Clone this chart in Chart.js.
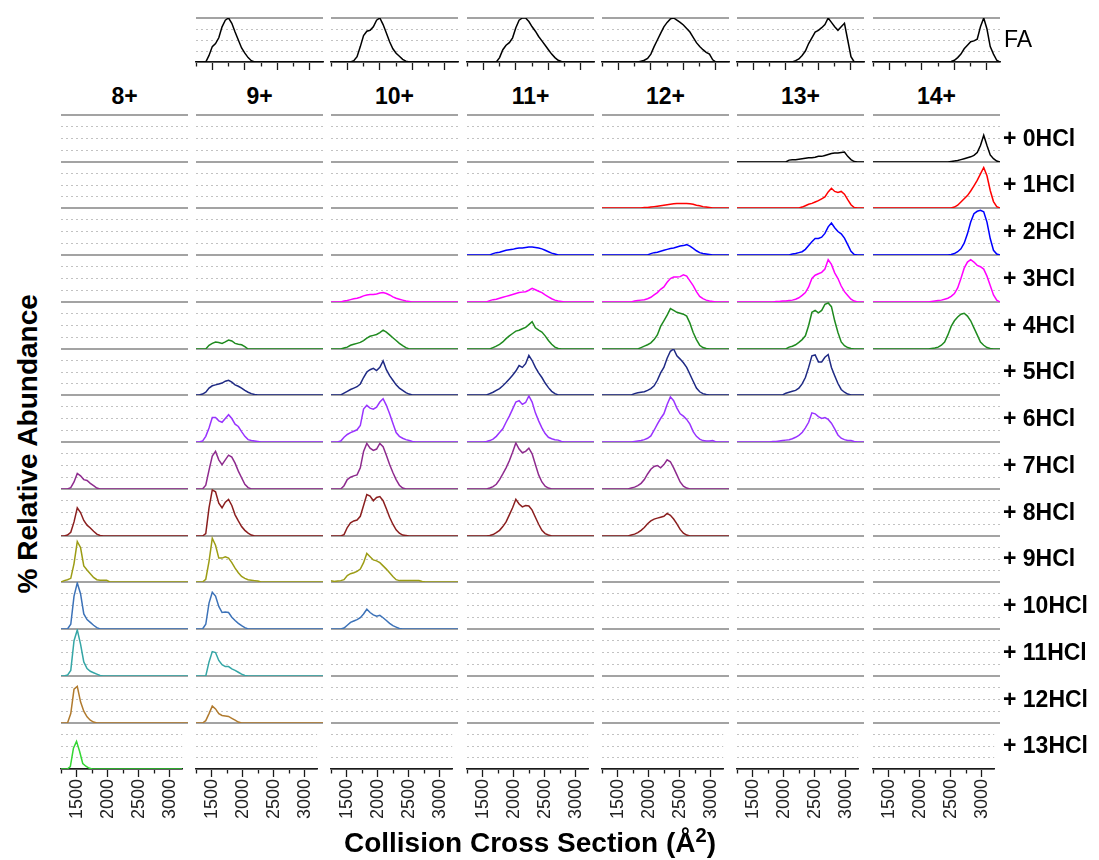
<!DOCTYPE html>
<html>
<head>
<meta charset="utf-8">
<script src="https://cdn.jsdelivr.net/npm/chart.js@4.4.1/dist/chart.umd.min.js"></script>
<style>
  body { margin: 0; background: #fff; }
  #wrap { position: relative; width: 1099px; height: 860px; overflow: hidden; font-family: "Liberation Sans", Arial, sans-serif; }
  #wrap canvas { position: absolute; }
  .lbl { position: absolute; white-space: nowrap; color: #000; }
  .sup { font-size: 0.72em; position: relative; top: -0.5em; }
</style>
</head>
<body>
<div id="wrap"></div>
<script>
// collision cross section grid (A^2), one value every 50
const ccs = [1250, 1300, 1350, 1400, 1450, 1500, 1550, 1600, 1650, 1700,
             1750, 1800, 1850, 1900, 1950, 2000, 2050, 2100, 2150, 2200,
             2250, 2300, 2350, 2400, 2450, 2500, 2550, 2600, 2650, 2700,
             2750, 2800, 2850, 2900, 2950, 3000, 3050, 3100, 3150, 3200];
const xTickValues = [1250, 1500, 1750, 2000, 2250, 2500, 2750, 3000];
const xTickLabels = [1500, 2000, 2500, 3000];
const charges = ['8+', '9+', '10+', '11+', '12+', '13+', '14+'];
const adducts = ['+ 0HCl', '+ 1HCl', '+ 2HCl', '+ 3HCl', '+ 4HCl', '+ 5HCl', '+ 6HCl',
                 '+ 7HCl', '+ 8HCl', '+ 9HCl', '+ 10HCl', '+ 11HCl', '+ 12HCl', '+ 13HCl'];

// relative abundance, 0..1, read along ccs (missing tail = 0)
// FA row
const fa9  = [0,0,0,0,.15,.35,.42,.55,.8,.95,1,.88,.68,.5,.32,.2,.1,.03];
const fa10 = [0,0,0,0,0,0,0,.03,.12,.35,.6,.7,.72,.8,.95,1,.85,.66,.46,.3,.2,.13,.06,.02];
const fa11 = [0,0,0,0,0,0,0,0,0,0,.1,.28,.38,.44,.55,.78,.95,1,1,.92,.8,.7,.58,.48,.38,.28,.18,.1,.04,.01];
const fa12 = [0,0,0,0,0,0,0,0,0,0,0,0,.02,.04,.08,.18,.35,.5,.65,.8,.9,.98,1,.95,.9,.84,.76,.68,.56,.44,.35,.28,.22,.18,.05];
const fa13 = [0,0,0,0,0,0,0,0,0,0,0,0,0,0,0,0,0,0,.03,.07,.15,.25,.42,.55,.68,.72,.78,.85,1,.9,.8,.72,.8,.88,.5,.12];
const fa14 = [0,0,0,0,0,0,0,0,0,0,0,0,0,0,0,0,0,0,0,0,0,0,0,0,.01,.04,.1,.18,.3,.38,.46,.48,.52,.8,1,.75,.35,.18,.04];

// +nHCl rows, named h<n>_<charge>
const h0_13 = [0,0,0,0,0,0,0,0,0,0,0,0,0,0,0,0,.04,.05,.05,.06,.07,.08,.09,.09,.1,.12,.12,.14,.16,.18,.19,.19,.2,.21,.12,.05,.01];
const h0_14 = [0,0,0,0,0,0,0,0,0,0,0,0,0,0,0,0,0,0,0,0,0,0,0,0,.01,.02,.03,.05,.07,.09,.11,.14,.2,.35,.57,.35,.15,.07,.02];

const h1_12 = [0,0,0,0,0,0,0,0,0,0,0,0,0,.01,.01,.02,.03,.04,.05,.06,.07,.08,.09,.1,.1,.1,.1,.09,.08,.06,.05,.03,.02,.01];
const h1_13 = [0,0,0,0,0,0,0,0,0,0,0,0,0,0,0,0,0,0,0,0,.02,.05,.08,.1,.13,.16,.2,.24,.35,.43,.36,.34,.36,.3,.18,.07,.01];
const h1_14 = [0,0,0,0,0,0,0,0,0,0,0,0,0,0,0,0,0,0,0,0,0,0,0,0,0,.02,.06,.13,.2,.27,.37,.48,.6,.74,.88,.7,.38,.14,.03];

const h2_11 = [0,0,0,0,0,0,0,0,.03,.05,.06,.08,.1,.11,.12,.14,.15,.15,.16,.17,.17,.16,.15,.13,.1,.07,.04,.02];
const h2_12 = [0,0,0,0,0,0,0,0,0,0,0,0,0,0,0,.03,.05,.06,.08,.1,.12,.14,.15,.17,.19,.2,.22,.19,.14,.09,.05,.03,.02,.01];
const h2_13 = [0,0,0,0,0,0,0,0,0,0,0,0,0,0,0,0,0,.02,.03,.05,.07,.12,.2,.28,.35,.35,.38,.46,.6,.68,.58,.5,.45,.36,.22,.08,.01];
const h2_14 = [0,0,0,0,0,0,0,0,0,0,0,0,0,0,0,0,0,0,0,0,0,0,0,0,.01,.03,.07,.13,.25,.45,.7,.88,.93,.95,.92,.7,.35,.1,.02];

const h3_10 = [0,0,0,0,.02,.03,.05,.07,.08,.1,.13,.15,.16,.16,.17,.19,.2,.18,.15,.11,.08,.06,.04,.02,.01];
const h3_11 = [0,0,0,0,0,0,0,.03,.05,.06,.08,.1,.12,.14,.16,.18,.2,.21,.22,.25,.29,.26,.23,.2,.15,.11,.07,.04,.02,.01];
const h3_12 = [0,0,0,0,0,0,0,0,0,0,.02,.03,.04,.05,.07,.1,.15,.2,.27,.32,.42,.5,.53,.53,.54,.58,.55,.45,.35,.22,.12,.07,.04,.02,.01];
const h3_13 = [0,0,0,0,0,0,0,0,0,0,0,0,.01,.01,.02,.02,.03,.04,.06,.09,.14,.2,.32,.5,.57,.6,.63,.7,.9,.8,.62,.5,.34,.22,.14,.06,.02];
const h3_14 = [0,0,0,0,0,0,0,0,0,0,0,0,0,0,0,0,0,0,.01,.02,.03,.04,.06,.08,.12,.18,.3,.5,.72,.85,.9,.85,.78,.75,.7,.55,.35,.15,.04];

const h4_9  = [0,0,0,0,.08,.12,.15,.14,.12,.15,.19,.17,.12,.1,.09,.05];
const h4_10 = [0,0,0,0,.02,.04,.08,.1,.12,.14,.18,.23,.27,.29,.31,.35,.4,.36,.3,.24,.18,.12,.07,.03];
const h4_11 = [0,0,0,0,0,0,0,0,.03,.06,.1,.15,.22,.28,.33,.38,.4,.43,.46,.52,.58,.45,.4,.36,.28,.18,.1,.04,.01];
const h4_12 = [0,0,0,0,0,0,0,0,0,0,0,0,.03,.06,.09,.13,.2,.3,.48,.6,.72,.86,.82,.78,.76,.74,.7,.55,.35,.2,.08,.03,.01];
const h4_13 = [0,0,0,0,0,0,0,0,0,0,0,0,0,0,0,0,.04,.06,.09,.14,.2,.28,.5,.78,.82,.77,.82,.95,.98,.9,.6,.35,.15,.07,.03,.01];
const h4_14 = [0,0,0,0,0,0,0,0,0,0,0,0,0,0,0,0,0,0,.01,.02,.04,.08,.15,.3,.48,.6,.68,.74,.76,.7,.6,.45,.3,.15,.08,.03,.01];

const h5_9  = [0,0,.02,.06,.15,.2,.22,.24,.26,.3,.32,.28,.22,.19,.15,.1,.06,.03,.01];
const h5_10 = [0,0,0,0,.04,.08,.12,.15,.18,.24,.38,.5,.55,.58,.53,.6,.74,.55,.42,.32,.22,.15,.1,.05,.02];
const h5_11 = [0,0,0,0,0,0,0,.03,.06,.1,.14,.2,.27,.35,.43,.52,.64,.6,.68,.86,.75,.6,.48,.38,.26,.16,.08,.03];
const h5_12 = [0,0,0,0,0,0,0,0,0,0,.03,.05,.06,.07,.1,.14,.2,.32,.48,.6,.8,.95,1,.85,.78,.7,.6,.45,.3,.15,.07,.03,.01];
const h5_13 = [0,0,0,0,0,0,0,0,0,0,0,0,0,0,0,.04,.06,.08,.1,.15,.24,.38,.6,.85,.87,.72,.72,.82,.88,.6,.42,.25,.12,.06,.02];

const h6_9  = [0,0,.02,.12,.3,.52,.52,.45,.42,.5,.58,.5,.38,.33,.22,.12,.05,.03,.02,.01];
const h6_10 = [0,0,0,.02,.1,.16,.2,.23,.26,.35,.7,.78,.72,.7,.74,.85,.92,.78,.6,.4,.2,.12,.08,.05,.03,.01];
const h6_11 = [0,0,0,0,0,0,.01,.03,.06,.12,.2,.28,.42,.55,.7,.85,.88,.8,.84,.98,.85,.62,.45,.3,.18,.1,.07,.05,.04,.01];
const h6_12 = [0,0,0,0,0,0,0,0,0,0,.01,.02,.03,.05,.08,.13,.25,.38,.5,.6,.8,.96,.88,.72,.6,.55,.48,.38,.22,.12,.06,.03,.02,.02,.03];
const h6_13 = [0,0,0,0,0,0,0,0,0,0,0,.01,.01,.02,.03,.04,.05,.07,.1,.14,.2,.3,.42,.62,.6,.54,.5,.52,.48,.4,.28,.15,.08,.05,.03,.03,.01];

const h7_8  = [0,0,0,.03,.15,.33,.28,.2,.18,.12,.07,.02];
const h7_9  = [0,0,0,.08,.4,.7,.8,.62,.52,.62,.72,.68,.55,.38,.24,.1,.03];
const h7_10 = [0,0,0,0,.07,.2,.25,.28,.3,.45,.8,.97,.87,.82,.85,.97,.9,.72,.52,.35,.2,.08,.02];
const h7_11 = [0,0,0,0,0,0,0,.02,.05,.1,.2,.32,.45,.6,.78,.98,.85,.77,.8,.87,.75,.52,.3,.15,.06,.02];
const h7_12 = [0,0,0,0,0,0,0,0,0,.02,.04,.07,.12,.2,.32,.42,.48,.5,.45,.52,.62,.58,.45,.3,.15,.06,.02];

const h8_8  = [0,0,.02,.08,.3,.6,.5,.33,.23,.17,.1,.04,.01];
const h8_9  = [0,0,0,.05,.6,.98,.94,.7,.6,.72,.78,.65,.45,.32,.2,.12,.06,.02];
const h8_10 = [0,0,0,0,.03,.18,.28,.32,.34,.42,.65,.88,.85,.75,.82,.84,.75,.58,.4,.25,.13,.06,.02,.01];
const h8_11 = [0,0,0,0,0,0,0,.01,.03,.07,.12,.2,.3,.45,.6,.78,.68,.62,.65,.64,.55,.4,.25,.12,.05,.02];
const h8_12 = [0,0,0,0,0,0,0,0,0,.02,.04,.07,.12,.18,.26,.32,.36,.38,.4,.42,.48,.44,.36,.26,.14,.06,.02];

const h9_8  = [0,.03,.05,.08,.4,.88,.75,.35,.26,.18,.1,.05,.04,.04,.04];
const h9_9  = [0,0,0,.06,.45,.95,.8,.52,.52,.55,.52,.42,.3,.2,.12,.08,.05,.04,.03,.02];
const h9_10 = [.03,.01,.02,.03,.05,.14,.18,.2,.23,.28,.42,.62,.55,.48,.46,.42,.35,.28,.2,.12,.05,.03,.03,.03,.03,.03,.03,.03,.01];

const h10_8  = [0,0,0,.1,.7,.98,.75,.32,.2,.14,.08,.03];
const h10_9  = [0,0,0,.1,.55,.78,.7,.48,.35,.36,.35,.25,.18,.12,.07,.03];
const h10_10 = [0,0,0,0,.02,.08,.14,.17,.2,.24,.32,.42,.35,.3,.27,.29,.24,.18,.12,.07,.04,.01];

const h11_8 = [0,0,.02,.12,.75,.98,.68,.3,.16,.1,.07,.04,.01];
const h11_9 = [0,0,0,0,.3,.52,.5,.33,.24,.2,.2,.15,.12,.08,.04,.01];

const h12_8 = [0,0,0,.2,.72,.78,.45,.25,.13,.06,.02];
const h12_9 = [0,0,0,.05,.2,.36,.3,.2,.16,.15,.14,.1,.06,.02];

const h13_8 = [0,0,0,.05,.45,.6,.38,.12,.06,.02];

// which panel shows which trace: [row, charge column, values]
const faTraces = [[1, fa9], [2, fa10], [3, fa11], [4, fa12], [5, fa13], [6, fa14]];
const hclTraces = [
  [0, 5, h0_13], [0, 6, h0_14],
  [1, 4, h1_12], [1, 5, h1_13], [1, 6, h1_14],
  [2, 3, h2_11], [2, 4, h2_12], [2, 5, h2_13], [2, 6, h2_14],
  [3, 2, h3_10], [3, 3, h3_11], [3, 4, h3_12], [3, 5, h3_13], [3, 6, h3_14],
  [4, 1, h4_9], [4, 2, h4_10], [4, 3, h4_11], [4, 4, h4_12], [4, 5, h4_13], [4, 6, h4_14],
  [5, 1, h5_9], [5, 2, h5_10], [5, 3, h5_11], [5, 4, h5_12], [5, 5, h5_13],
  [6, 1, h6_9], [6, 2, h6_10], [6, 3, h6_11], [6, 4, h6_12], [6, 5, h6_13],
  [7, 0, h7_8], [7, 1, h7_9], [7, 2, h7_10], [7, 3, h7_11], [7, 4, h7_12],
  [8, 0, h8_8], [8, 1, h8_9], [8, 2, h8_10], [8, 3, h8_11], [8, 4, h8_12],
  [9, 0, h9_8], [9, 1, h9_9], [9, 2, h9_10],
  [10, 0, h10_8], [10, 1, h10_9], [10, 2, h10_10],
  [11, 0, h11_8], [11, 1, h11_9],
  [12, 0, h12_8], [12, 1, h12_9],
  [13, 0, h13_8]
];

const adductColors = ['#000000', '#ff0000', '#0000ff', '#ff00ff', '#1f8a1f', '#1f2a84', '#9933ff',
                      '#8e2b8e', '#8b1f1f', '#9c9c14', '#3c72b8', '#35a6a6', '#b07a2e', '#33d633'];

const FONT = '"Liberation Sans", Arial, sans-serif';
const wrap = document.getElementById('wrap');
const PAD = 6;
const PANEL_W = 127;
const colLeft = c => Math.round(60.7 + 135.3 * c);
const rowTop = r => Math.round(114.8 + 46.75 * r);

function addText(txt, left, cy, size, bold, extra, html) {
  const d = document.createElement('div');
  d.className = 'lbl';
  if (html) d.innerHTML = txt; else d.textContent = txt;
  d.style.left = left + 'px';
  d.style.top = (cy - size * 0.6) + 'px';
  d.style.fontSize = size + 'px';
  d.style.lineHeight = (size * 1.2) + 'px';
  d.style.fontWeight = bold ? 'bold' : 'normal';
  if (extra) Object.assign(d.style, extra);
  wrap.appendChild(d);
  return d;
}

function panel(left, top, h, values, color, opt) {
  const axisH = opt.axis ? (opt.labels ? 60 : 9) : 0;
  const cv = document.createElement('canvas');
  cv.width = PANEL_W + 2 * PAD;
  cv.height = h + 2 * PAD + axisH;
  cv.style.left = (left - PAD) + 'px';
  cv.style.top = (top - PAD) + 'px';
  wrap.appendChild(cv);

  const datasets = [];
  if (values) {
    datasets.push({
      data: ccs.map((x, i) => ({ x: x, y: values[i] || 0 })),
      borderColor: color,
      borderWidth: 1.5,
      pointRadius: 0,
      tension: 0,
      fill: false
    });
  }

  const lineCol = '#a3a3a3';
  new Chart(cv.getContext('2d'), {
    type: 'line',
    data: { datasets: datasets },
    options: {
      responsive: false,
      animation: false,
      events: [],
      layout: { padding: { left: PAD, right: PAD, top: PAD, bottom: PAD } },
      plugins: { legend: { display: false }, tooltip: { enabled: false } },
      scales: {
        x: {
          type: 'linear',
          min: 1250,
          max: 3200,
          display: !!opt.axis,
          position: 'bottom',
          z: 1,
          afterBuildTicks: s => { s.ticks = xTickValues.map(v => ({ value: v })); },
          afterFit: s => { s.height = axisH; },
          grid: {
            drawOnChartArea: false,
            drawTicks: true,
            tickLength: 8,
            tickColor: '#1a1a1a',
            tickWidth: 1.3,
            tickBorderDash: ctx => (ctx.tick && xTickLabels.includes(ctx.tick.value)) ? [] : [4, 20]
          },
          border: { display: true, color: '#1a1a1a', width: 1.5 },
          ticks: {
            display: !!opt.labels,
            autoSkip: false,
            minRotation: 90,
            maxRotation: 90,
            padding: 2,
            color: '#222',
            font: { family: FONT, size: 18 },
            callback: v => xTickLabels.includes(v) ? String(v) : ''
          }
        },
        y: {
          min: 0,
          max: 1,
          afterFit: s => { s.width = 0; },
          ticks: { display: false, stepSize: 0.25 },
          grid: {
            drawTicks: false,
            color: ctx => {
              const v = ctx.tick.value;
              if (v === 0) return lineCol;
              if (v === 1) return opt.topLine ? lineCol : 'rgba(0,0,0,0)';
              return '#c2c2c2';
            },
            lineWidth: ctx => (ctx.tick.value === 0 || ctx.tick.value === 1) ? 2 : 1
          },
          border: {
            display: false,
            dash: ctx => (ctx.tick && ctx.tick.value > 0 && ctx.tick.value < 1) ? [2, 3] : []
          }
        }
      }
    }
  });
}

// FA row
const faTop = 18, faH = 44;
for (let c = 1; c < 7; c++) {
  const tr = faTraces.find(t => t[0] === c);
  panel(colLeft(c), faTop, faH, tr ? tr[1] : null, '#000000', { axis: true, labels: false, topLine: true });
}
addText('FA', 1004, 40, 23, false);

// charge headers
charges.forEach((ch, c) => {
  addText(ch, colLeft(c), 97, 23, true, { width: PANEL_W + 'px', textAlign: 'center' });
});

// HCl adduct grid
for (let r = 0; r < adducts.length; r++) {
  const top = rowTop(r);
  const h = rowTop(r + 1) - top;
  for (let c = 0; c < charges.length; c++) {
    const tr = hclTraces.find(t => t[0] === r && t[1] === c);
    const last = r === adducts.length - 1;
    panel(colLeft(c), top, h, tr ? tr[2] : null, adductColors[r],
          { axis: last, labels: last, topLine: r === 0 });
  }
  addText(adducts[r], 1003, top + h / 2, 23, true);
}

// axis titles
addText('% Relative Abundance', 28 - 200, 444, 28, true,
        { width: '400px', textAlign: 'center', transform: 'rotate(-90deg)' });
addText('Collision Cross Section (\u00c5<span class="sup">2</span>)', 330, 843, 28, true,
        { width: '400px', textAlign: 'center' }, true);
</script>
</body>
</html>
